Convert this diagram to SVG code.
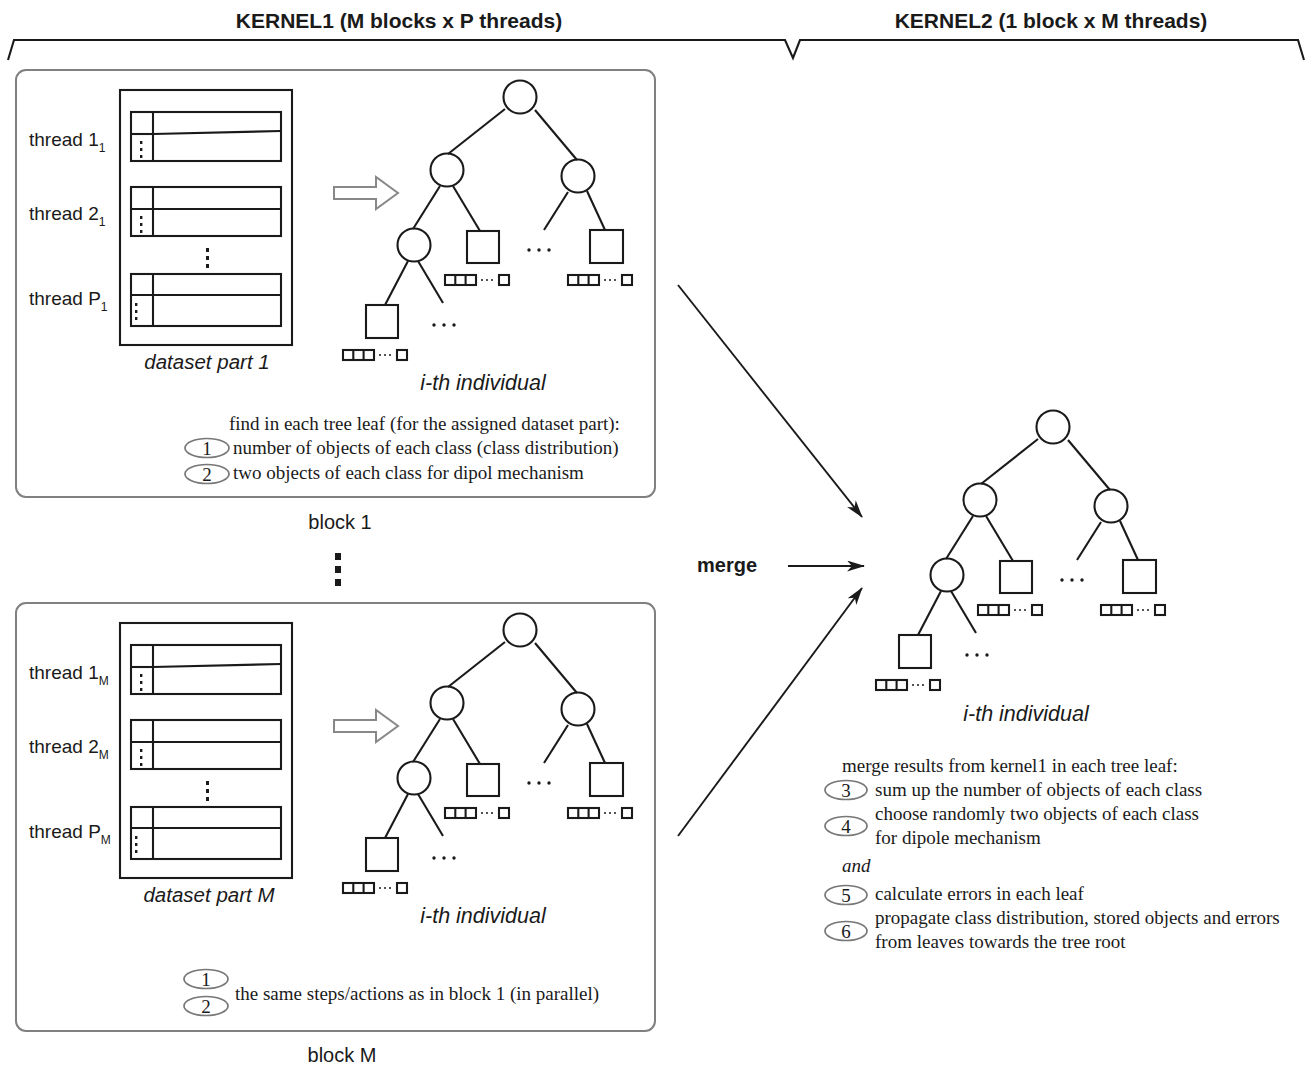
<svg xmlns="http://www.w3.org/2000/svg" xmlns:xlink="http://www.w3.org/1999/xlink" width="1306" height="1067" viewBox="0 0 1306 1067">
<style>
.sans{font-family:"Liberation Sans",Arial,sans-serif;fill:#1a1a1a}
.serif{font-family:"Liberation Serif","Times New Roman",serif;fill:#1a1a1a;font-size:19px}
.blk{fill:none;stroke:#808080;stroke-width:2}
.ln{stroke:#1a1a1a;stroke-width:2.1;fill:none}
.ell{fill:none;stroke:#777;stroke-width:1.7}
.dot{fill:#1a1a1a}
.con{stroke:#1a1a1a;stroke-width:1.9;fill:none;marker-end:url(#ah)}
</style>
<defs>
<marker id="ah" viewBox="0 0 18 11" refX="17" refY="5.5" markerWidth="18" markerHeight="11" markerUnits="userSpaceOnUse" orient="auto">
<path d="M0,0 L18,5.5 L0,11 L5,5.5 Z" fill="#1a1a1a"/>
</marker>
<g id="mini">
<rect x="0" y="0" width="31" height="10" class="ln"/>
<line x1="10.3" y1="0" x2="10.3" y2="10" class="ln"/>
<line x1="20.6" y1="0" x2="20.6" y2="10" class="ln"/>
<circle cx="37" cy="5" r="1" class="dot"/>
<circle cx="42" cy="5" r="1" class="dot"/>
<circle cx="47" cy="5" r="1" class="dot"/>
<rect x="54" y="0" width="10" height="10" class="ln"/>
</g>
<g id="tree">
<line x1="505" y1="109" x2="448" y2="154" class="ln"/>
<line x1="535" y1="110" x2="577" y2="160" class="ln"/>
<line x1="440" y1="186" x2="413" y2="229" class="ln"/>
<line x1="453" y1="186" x2="480" y2="231" class="ln"/>
<line x1="568" y1="192" x2="544" y2="230" class="ln"/>
<line x1="587" y1="191" x2="605" y2="230" class="ln"/>
<line x1="408" y1="261" x2="385" y2="305" class="ln"/>
<line x1="418" y1="261" x2="443" y2="303" class="ln"/>
<circle cx="520" cy="97" r="16.5" fill="#fff" class="ln"/>
<circle cx="447" cy="170" r="16.5" fill="#fff" class="ln"/>
<circle cx="578" cy="176" r="16.5" fill="#fff" class="ln"/>
<circle cx="414" cy="245" r="16.5" fill="#fff" class="ln"/>
<rect x="467" y="231" width="32" height="32" class="ln"/>
<rect x="590" y="230" width="33" height="33" class="ln"/>
<rect x="366" y="305" width="32" height="33" class="ln"/>
<circle cx="529" cy="250" r="1.7" class="dot"/>
<circle cx="539" cy="250" r="1.7" class="dot"/>
<circle cx="549" cy="250" r="1.7" class="dot"/>
<circle cx="434" cy="325" r="1.7" class="dot"/>
<circle cx="444" cy="325" r="1.7" class="dot"/>
<circle cx="454" cy="325" r="1.7" class="dot"/>
<use xlink:href="#mini" href="#mini" x="445" y="275"/>
<use xlink:href="#mini" href="#mini" x="568" y="275"/>
<use xlink:href="#mini" href="#mini" x="343" y="350"/>
</g>
<g id="dataset">
<rect x="120" y="90" width="172" height="255" class="ln"/>
<rect x="131" y="112" width="150" height="49" class="ln"/>
<line x1="153" y1="112" x2="153" y2="161" class="ln"/>
<line x1="153" y1="134" x2="281" y2="131" class="ln"/>
<line x1="131" y1="134" x2="153" y2="134" class="ln"/>
<rect x="131" y="187" width="150" height="49" class="ln"/>
<line x1="153" y1="187" x2="153" y2="236" class="ln"/>
<line x1="131" y1="209" x2="281" y2="209" class="ln"/>
<rect x="131" y="274" width="150" height="52" class="ln"/>
<line x1="153" y1="274" x2="153" y2="326" class="ln"/>
<line x1="131" y1="295" x2="281" y2="295" class="ln"/>
<rect x="140" y="141" width="2.4" height="3" class="dot"/>
<rect x="140" y="148" width="2.4" height="3" class="dot"/>
<rect x="140" y="155" width="2.4" height="3" class="dot"/>
<rect x="140" y="216" width="2.4" height="3" class="dot"/>
<rect x="140" y="223" width="2.4" height="3" class="dot"/>
<rect x="140" y="230" width="2.4" height="3" class="dot"/>
<rect x="135" y="303" width="2.4" height="3" class="dot"/>
<rect x="135" y="310" width="2.4" height="3" class="dot"/>
<rect x="135" y="317" width="2.4" height="3" class="dot"/>
<rect x="206" y="248" width="3" height="4" class="dot"/>
<rect x="206" y="256" width="3" height="4" class="dot"/>
<rect x="206" y="264" width="3" height="4" class="dot"/>
</g>
<polygon id="hollow" points="334,187 376,187 376,177 398,193 376,209 376,199 334,199" fill="#fff" stroke="#888" stroke-width="2"/>
</defs>
<rect width="1306" height="1067" fill="#fff"/>

<g id="header">
<path d="M8,60 L14,40 L785,40 L793,58 L800,40 L1298,40 L1304,60" class="ln"/>
<text x="399" y="28" text-anchor="middle" class="sans" font-size="21" font-weight="bold">KERNEL1 (M blocks x P threads)</text>
<text x="1051" y="28" text-anchor="middle" class="sans" font-size="21" font-weight="bold">KERNEL2 (1 block x M threads)</text>
</g>

<g id="block1">
<rect x="16" y="70" width="639" height="427" rx="10" class="blk"/>
<use xlink:href="#dataset" href="#dataset"/>
<text x="29" y="146" class="sans" font-size="19">thread 1<tspan font-size="12" dy="6">1</tspan></text>
<text x="29" y="220" class="sans" font-size="19">thread 2<tspan font-size="12" dy="6">1</tspan></text>
<text x="29" y="305" class="sans" font-size="19">thread P<tspan font-size="12" dy="6">1</tspan></text>
<text x="207" y="369" text-anchor="middle" class="sans" font-size="20.5" font-style="italic">dataset part 1</text>
<use xlink:href="#hollow" href="#hollow"/>
<use xlink:href="#tree" href="#tree"/>
<text x="483" y="390" text-anchor="middle" class="sans" font-size="21.5" font-style="italic">i-th individual</text>
<text x="229" y="430" class="serif">find in each tree leaf (for the assigned dataset part):</text>
<ellipse cx="207" cy="448" rx="22" ry="9.5" class="ell"/>
<text x="207" y="454.5" text-anchor="middle" class="serif">1</text>
<text x="233" y="454" class="serif">number of objects of each class (class distribution)</text>
<ellipse cx="207" cy="474" rx="22" ry="9.5" class="ell"/>
<text x="207" y="480.5" text-anchor="middle" class="serif">2</text>
<text x="233" y="479" class="serif">two objects of each class for dipol mechanism</text>
<text x="340" y="529" text-anchor="middle" class="sans" font-size="20">block 1</text>
</g>

<g id="vdots">
<rect x="335" y="553" width="6" height="7" class="dot"/>
<rect x="335" y="566" width="6" height="7" class="dot"/>
<rect x="335" y="579" width="6" height="7" class="dot"/>
</g>

<g id="blockM">
<rect x="16" y="603" width="639" height="428" rx="10" class="blk"/>
<use xlink:href="#dataset" href="#dataset" y="533"/>
<text x="29" y="679" class="sans" font-size="19">thread 1<tspan font-size="12" dy="6">M</tspan></text>
<text x="29" y="753" class="sans" font-size="19">thread 2<tspan font-size="12" dy="6">M</tspan></text>
<text x="29" y="838" class="sans" font-size="19">thread P<tspan font-size="12" dy="6">M</tspan></text>
<text x="209" y="902" text-anchor="middle" class="sans" font-size="20.5" font-style="italic">dataset part M</text>
<use xlink:href="#hollow" href="#hollow" y="533"/>
<use xlink:href="#tree" href="#tree" y="533"/>
<text x="483" y="923" text-anchor="middle" class="sans" font-size="21.5" font-style="italic">i-th individual</text>
<ellipse cx="206" cy="979" rx="22" ry="9.5" class="ell"/>
<text x="206" y="985.5" text-anchor="middle" class="serif">1</text>
<ellipse cx="206" cy="1006" rx="22" ry="9.5" class="ell"/>
<text x="206" y="1012.5" text-anchor="middle" class="serif">2</text>
<text x="235" y="1000" class="serif">the same steps/actions as in block 1 (in parallel)</text>
<text x="342" y="1062" text-anchor="middle" class="sans" font-size="20">block M</text>
</g>

<g id="kernel2">
<use xlink:href="#tree" href="#tree" x="533" y="330"/>
<text x="1026" y="721" text-anchor="middle" class="sans" font-size="21.5" font-style="italic">i-th individual</text>
<text x="842" y="772" class="serif">merge results from kernel1 in each tree leaf:</text>
<ellipse cx="846" cy="790" rx="21" ry="9.5" class="ell"/>
<text x="846" y="796.5" text-anchor="middle" class="serif">3</text>
<text x="875" y="796" class="serif">sum up the number of objects of each class</text>
<ellipse cx="846" cy="826" rx="21" ry="9.5" class="ell"/>
<text x="846" y="832.5" text-anchor="middle" class="serif">4</text>
<text x="875" y="820" class="serif">choose randomly two objects of each class</text>
<text x="875" y="844" class="serif">for dipole mechanism</text>
<text x="842" y="872" class="serif" font-style="italic">and</text>
<ellipse cx="846" cy="895" rx="21" ry="9.5" class="ell"/>
<text x="846" y="901.5" text-anchor="middle" class="serif">5</text>
<text x="875" y="900" class="serif">calculate errors in each leaf</text>
<ellipse cx="846" cy="931" rx="21" ry="9.5" class="ell"/>
<text x="846" y="937.5" text-anchor="middle" class="serif">6</text>
<text x="875" y="924" class="serif">propagate class distribution, stored objects and errors</text>
<text x="875" y="948" class="serif">from leaves towards the tree root</text>
</g>

<g id="connectors">
<line x1="678" y1="285" x2="862" y2="517" class="con"/>
<line x1="788" y1="566" x2="864" y2="566" class="con"/>
<line x1="678" y1="836" x2="862" y2="588" class="con"/>
<text x="697" y="572" class="sans" font-size="20" font-weight="bold">merge</text>
</g>
</svg>
